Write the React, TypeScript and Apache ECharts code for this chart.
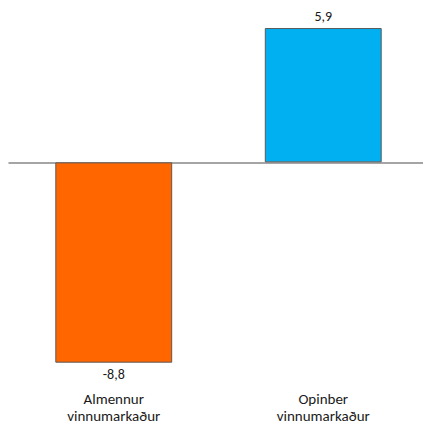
import React, { useEffect, useRef } from "react";
import * as echarts from "echarts";

const categories = ["Almennur\nvinnumarkaður", "Opinber\nvinnumarkaður"];
const values = [-8.8, 5.9];
const colors = ["#FF6600", "#00B0F0"];

export default function App() {
  const ref = useRef<HTMLDivElement>(null);
  useEffect(() => {
    if (!ref.current) return;
    const chart = echarts.init(ref.current, null, { renderer: "svg" });
    const font = "Carlito, 'Open Sans', 'Noto Sans', sans-serif";
    chart.setOption({
      animation: false,
      grid: { left: 9, right: 2, top: 3, bottom: 36, containLabel: false },
      xAxis: [
        {
          type: "category",
          data: categories,
          axisLine: { onZero: true, lineStyle: { color: "#888888", width: 1.5 } },
          axisTick: { show: false },
          axisLabel: { show: false },
        },
        {
          type: "category",
          data: categories,
          position: "bottom",
          axisLine: { show: false, onZero: false },
          axisTick: { show: false },
          axisLabel: {
            margin: 0,
            color: "#1a1a1a",
            fontSize: 15,
            lineHeight: 17,
            fontFamily: font,
          },
        },
      ],
      yAxis: {
        type: "value",
        min: -10,
        max: 7,
        show: false,
        splitLine: { show: false },
      },
      series: [
        {
          type: "bar",
          xAxisIndex: 0,
          barWidth: "55.8%",
          data: values.map((v, i) => ({
            value: v,
            itemStyle: { color: colors[i], borderColor: "#5a5a5a", borderWidth: 1 },
            label: { position: v < 0 ? "bottom" : "top" },
          })),
          label: {
            show: true,
            distance: 5,
            color: "#1a1a1a",
            fontSize: 14,
            fontFamily: font,
            formatter: (p: any) => String(p.value).replace(".", ","),
          },
        },
      ],
    });
    return () => chart.dispose();
  }, []);
  return (
    <div style={{ position: "absolute", left: 0, top: 0, width: 423, height: 426, overflow: "hidden" }}>
      <div ref={ref} style={{ width: 430, height: 426 }} />
    </div>
  );
}
